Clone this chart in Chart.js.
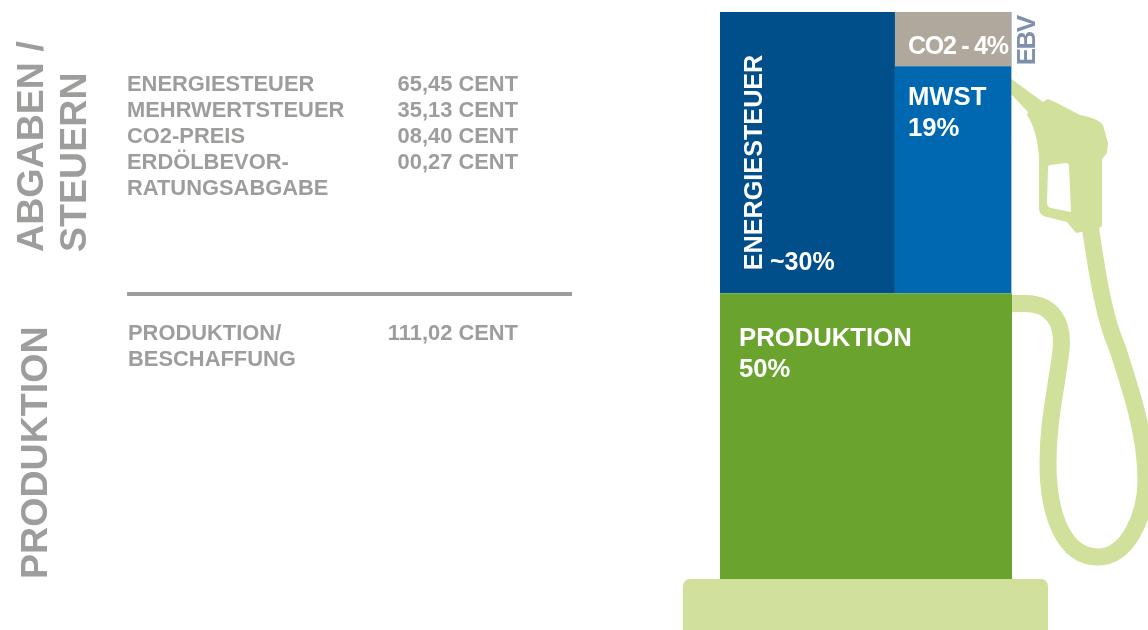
<!DOCTYPE html>
<html lang="de">
<head>
<meta charset="utf-8">
<title>Spritpreis Zusammensetzung</title>
<script src="https://cdn.jsdelivr.net/npm/chart.js@4"></script>
<style>
  html, body { margin: 0; padding: 0; background: #fff; }
  #page { position: relative; width: 1148px; height: 630px; overflow: hidden; font-family: "Liberation Sans", sans-serif; }
  #pump { position: absolute; left: 0; top: 0; }
  .t { position: absolute; white-space: nowrap; color: #9d9d9c; font-weight: bold; font-size: 21.9px; line-height: 26px; }
  .r { text-align: right; width: 200px; }
  .v { font-size: 37.6px; line-height: 37.6px; transform-origin: 0 0; transform: rotate(-90deg); }
  #rule { position: absolute; left: 127px; top: 292px; width: 445px; height: 4px; background: #9d9d9c; }
</style>
</head>
<body>
<div id="page">
  <canvas id="pump" width="1148" height="630"></canvas>
  <div id="rule"></div>
</div>
<script>
// cent per litre
const taxLabels = ['ENERGIESTEUER', 'MEHRWERTSTEUER', 'CO2-PREIS', 'ERDÖLBEVOR-\nRATUNGSABGABE'];
const taxValues = [65.45, 35.13, 8.40, 0.27];
const productionLabel = 'PRODUKTION/\nBESCHAFFUNG';
const productionValue = 111.02;
const shareLabels = ['~30%', '19%', 'CO2 - 4%', '50%'];

const blockColors = { production: '#6ba32f', energy: '#004f8a', mwst: '#0067b1', co2: '#b0a89c', ebv: '#7f8fae' };
const hoseColor = '#d1e19b';

const fmt = v => (v < 10 ? '0' : '') + v.toFixed(2).replace('.', ',') + ' CENT';

// left hand table
const page = document.getElementById('page');
function addText(cls, text, x, y) {
  const d = document.createElement('div');
  d.className = 't ' + cls;
  d.innerText = text;
  d.style.left = x + 'px';
  d.style.top = y + 'px';
  page.appendChild(d);
  return d;
}
addText('v', 'ABGABEN /', 12, 252);
addText('v', 'STEUERN', 55, 252);
addText('v', 'PRODUKTION', 16, 579);
let rowY = 71;
taxLabels.forEach((label, i) => {
  addText('', label, 127, rowY);
  addText('r', fmt(taxValues[i]), 318, rowY);
  rowY += 26;
});
addText('', productionLabel, 128, 320);
addText('r', fmt(productionValue), 318, 320);

// blocks: top half is split by value, the right column again by value
const taxTotal = taxValues.reduce((a, b) => a + b, 0);
const total = taxTotal + productionValue;
const energyW = taxValues[0] / taxTotal * 100;
const rightW = (taxValues[1] + taxValues[2]) / taxTotal * 100;
const mwstTop = productionValue + taxTotal * taxValues[1] / (taxValues[1] + taxValues[2]);

function block(label, x0, x1, y0, y1, color) {
  return {
    label: label,
    data: [{ x: x0, y: y1 }, { x: x1, y: y1 }],
    fill: { value: y0 },
    backgroundColor: color,
    borderWidth: 0,
    pointRadius: 0,
    tension: 0
  };
}

const datasets = [
  block('Produktion', 0, 100, 0, productionValue, blockColors.production),
  block('Energiesteuer', 0, energyW, productionValue, total, blockColors.energy),
  block('Mehrwertsteuer', energyW, energyW + rightW, productionValue, mwstTop, blockColors.mwst),
  block('CO2-Preis', energyW, energyW + rightW, mwstTop, total, blockColors.co2),
  block('EBV', energyW + rightW, 100, productionValue, total, blockColors.ebv)
];

// nozzle, hose and base plate behind the blocks
const pumpShape = {
  id: 'pumpShape',
  beforeDatasetsDraw(chart) {
    const ctx = chart.ctx;
    ctx.save();
    ctx.fillStyle = hoseColor;
    ctx.strokeStyle = hoseColor;

    ctx.beginPath();
    ctx.roundRect(683, 579, 365, 60, 7);
    ctx.fill();

    ctx.lineWidth = 17;
    ctx.beginPath();
    ctx.moveTo(1005, 303.5);
    ctx.lineTo(1026, 303.5);
    ctx.bezierCurveTo(1052, 304, 1064, 322, 1061, 350);
    ctx.bezierCurveTo(1056, 392, 1048, 420, 1048, 463);
    ctx.bezierCurveTo(1048, 515, 1064, 557, 1098, 557);
    ctx.bezierCurveTo(1128, 557, 1146, 515, 1146, 480);
    ctx.bezierCurveTo(1146, 435, 1131, 390, 1117, 347);
    ctx.bezierCurveTo(1105, 320, 1098, 280, 1090, 225);
    ctx.stroke();

    ctx.beginPath();
    ctx.moveTo(1010, 78);
    ctx.lineTo(1043, 102);
    ctx.lineTo(1048, 99);
    ctx.lineTo(1057, 103);
    ctx.lineTo(1080, 115);
    ctx.quadraticCurveTo(1098, 118, 1103, 125);
    ctx.lineTo(1108, 143);
    ctx.lineTo(1107, 153);
    ctx.lineTo(1102, 159);
    ctx.lineTo(1102, 226);
    ctx.lineTo(1098, 229);
    ctx.lineTo(1076, 233);
    ctx.lineTo(1067, 222);
    ctx.lineTo(1047, 217);
    ctx.quadraticCurveTo(1039, 216, 1039, 208);
    ctx.lineTo(1039, 157);
    ctx.quadraticCurveTo(1037, 130, 1027, 115);
    ctx.lineTo(1028, 112);
    ctx.lineTo(1010, 93);
    ctx.closePath();
    // trigger opening
    ctx.moveTo(1050, 165);
    ctx.lineTo(1066, 163);
    ctx.quadraticCurveTo(1069, 163, 1069, 166);
    ctx.lineTo(1071, 212);
    ctx.lineTo(1051, 208);
    ctx.quadraticCurveTo(1047, 207, 1047, 203);
    ctx.lineTo(1048, 168);
    ctx.quadraticCurveTo(1048, 165, 1050, 165);
    ctx.closePath();
    ctx.fill('evenodd');
    ctx.restore();
  }
};

// labels inside the blocks, anchored on the block corners
const blockLabels = {
  id: 'blockLabels',
  afterDatasetsDraw(chart) {
    const ctx = chart.ctx;
    const x = chart.scales.x, y = chart.scales.y;
    const text = (s, px, py, font, color, rot, spacing) => {
      ctx.save();
      ctx.translate(px, py);
      if (rot) ctx.rotate(-Math.PI / 2);
      ctx.font = font;
      ctx.fillStyle = color || '#fff';
      ctx.letterSpacing = spacing || '0px';
      ctx.textBaseline = 'alphabetic';
      ctx.fillText(s, 0, 0);
      ctx.restore();
    };
    const left = x.getPixelForValue(0);
    const split = x.getPixelForValue(energyW);
    const right = x.getPixelForValue(100);
    const midY = y.getPixelForValue(productionValue);
    const co2Y = y.getPixelForValue(mwstTop);

    text('ENERGIESTEUER', left + 42, midY - 23, 'bold 25.2px "Liberation Sans"', '#fff', true);
    text(shareLabels[0], left + 50, midY - 23, 'bold 25px "Liberation Sans"');
    text('MWST', split + 13, co2Y + 39, 'bold 25.7px "Liberation Sans"');
    text(shareLabels[1], split + 13, co2Y + 70, 'bold 25.7px "Liberation Sans"');
    text(shareLabels[2], split + 13, co2Y - 12, 'bold 25px "Liberation Sans"', '#fff', false, '-1.25px');
    text('PRODUKTION', left + 19, midY + 53, 'bold 25.7px "Liberation Sans"');
    text(shareLabels[3], left + 19, midY + 84, 'bold 25.7px "Liberation Sans"');
    text('EBV', right + 23, co2Y - 1, 'bold 26px "Liberation Sans"', blockColors.ebv, true, '-1.5px');
  }
};

new Chart(document.getElementById('pump'), {
  type: 'line',
  data: { datasets: datasets },
  plugins: [pumpShape, blockLabels],
  options: {
    responsive: false,
    animation: false,
    layout: { padding: { left: 720, right: 136, top: 12, bottom: 51 } },
    plugins: { legend: { display: false }, tooltip: { enabled: false }, title: { display: false } },
    scales: {
      x: { type: 'linear', display: false, min: 0, max: 100 },
      y: { type: 'linear', display: false, min: 0, max: total }
    }
  }
});
</script>
</body>
</html>
